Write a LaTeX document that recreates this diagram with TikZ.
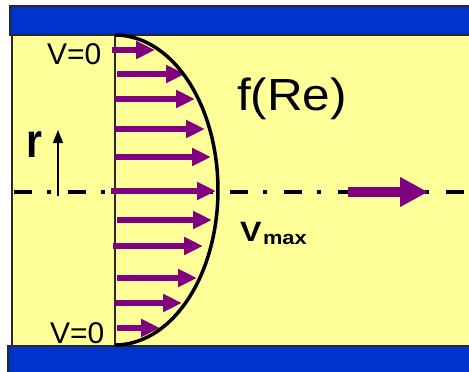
\documentclass[tikz,border=0pt]{standalone}
\usepackage{fontspec}
\setmainfont{Liberation Sans}
\usetikzlibrary{arrows.meta}
\definecolor{bg}{RGB}{255,255,153}
\definecolor{wallblue}{RGB}{0,51,204}
\definecolor{vel}{RGB}{128,0,128}
\definecolor{edgegray}{RGB}{40,40,40}
\begin{document}
\begin{tikzpicture}[x=1pt,y=-1pt,
  velarrow/.style={vel, line width=6pt, -{Triangle[length=19pt,width=17pt]}},
  bigarrow/.style={vel, line width=10pt, -{Triangle[length=28pt,width=28pt]}},
  lbl/.style={anchor=base west, inner sep=0pt, outer sep=0pt},
  wallbar/.style={fill=wallblue, draw=edgegray, line width=1.5pt}]
\useasboundingbox (0,0) rectangle (469,372);
\clip (0,0) rectangle (469,372);
\fill[white] (0,0) rectangle (469,372);
% fluid region and walls
\filldraw[fill=bg, draw=edgegray, line width=1.5pt] (12,35) rectangle (480,346);
\filldraw[wallbar] (10,6) rectangle (480,35);
\filldraw[wallbar, line width=2pt] (8,346) rectangle (480,390);
% centre line
\draw[line width=3.5pt, dash pattern=on 18pt off 15pt on 4pt off 17pt, dash phase=52pt] (12,192) -- (469,192);
% reference line of the profile
\draw[edgegray, line width=1.5pt] (115,35) -- (115,346);
% velocity arrows
\foreach \xs/\xe/\yy in {112/155/50, 117/185/74, 115/195/99, 115/205/129, 115/211/157,
  111/216/191, 117/212/220, 113/203/246, 117/197/278, 115/182/303, 117/160/328}
  \draw[velarrow] (\xs,\yy) -- (\xe,\yy);
% velocity profile
\draw[line width=3.5pt] plot[domain=-90:90, samples=90] ({115+103*cos(\x)},{190+155*sin(\x)});
% mean flow arrow
\coordinate (fa) at (348,192);
\coordinate (fb) at (428,192);
\draw[bigarrow] (fa) -- (fb);
% r axis
\coordinate (rb) at (58,196);
\coordinate (rt) at (58,130);
\draw[line width=1.2pt, -{Triangle[length=13pt,width=10pt]}] (rb) -- (rt);
% labels
\node[lbl, font=\fontsize{30}{30}\selectfont] (v0top) at (47,64) {V=0};
\node[lbl, font=\fontsize{30}{30}\selectfont] (v0bot) at (50,343) {V=0};
\node[lbl, font=\fontsize{45}{45}\selectfont] (fre) at (237,110) {\scalebox{1.1}[1]{f(Re)}};
\node[lbl, font=\bfseries\fontsize{48}{48}\selectfont] (rlab) at (27,157) {\scalebox{0.85}[1]{r}};
\node[lbl, font=\bfseries\fontsize{28}{28}\selectfont] (vlab) at (240,241) {\scalebox{1.15}[1]{V}};
\node[lbl, font=\bfseries\fontsize{19}{19}\selectfont] (maxlab) at (263,244) {\scalebox{1.15}[1]{max}};
\end{tikzpicture}
\end{document}
